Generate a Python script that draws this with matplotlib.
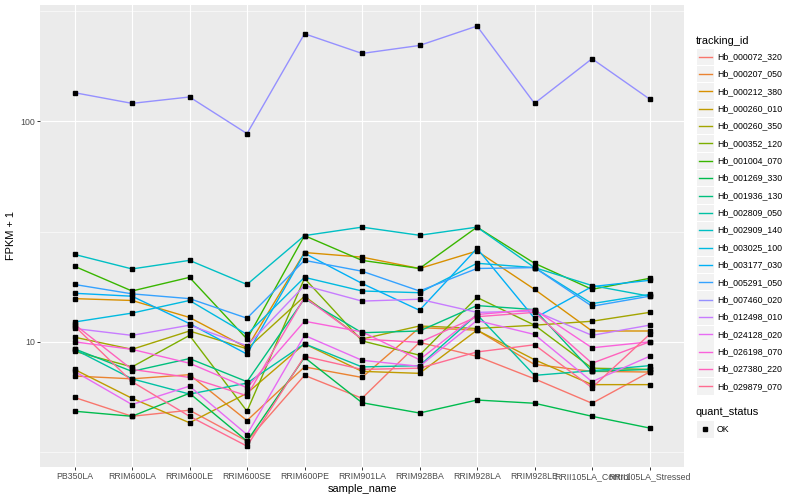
import matplotlib
matplotlib.use("Agg")
import matplotlib.pyplot as plt
from matplotlib.patches import Rectangle
from matplotlib.lines import Line2D
from matplotlib.ticker import FixedLocator, NullFormatter

plt.rcParams['font.family'] = ['Liberation Sans', 'DejaVu Sans']

samples = ["PB350LA", "RRIM600LA", "RRIM600LE", "RRIM600SE", "RRIM600PE",
           "RRIM901LA", "RRIM928BA", "RRIM928LA", "RRIM928LE",
           "RRII105LA_Control", "RRII105LA_Stressed"]

tracking_ids = ["Hb_000072_320", "Hb_000207_050", "Hb_000212_380", "Hb_000260_010",
                "Hb_000260_350", "Hb_000352_120", "Hb_001004_070", "Hb_001269_330",
                "Hb_001936_130", "Hb_002809_050", "Hb_002909_140", "Hb_003025_100",
                "Hb_003177_030", "Hb_005291_050", "Hb_007460_020", "Hb_012498_010",
                "Hb_024128_020", "Hb_026198_070", "Hb_027380_220", "Hb_029879_070"]

# ggplot2 default hue palette, 20 levels
colors = ["#F8766D", "#EA8331", "#D89000", "#C09B00", "#A3A500", "#7CAE00",
          "#39B600", "#00BB4E", "#00BF7D", "#00C1A3", "#00BFC4", "#00BAE0",
          "#00B0F6", "#35A2FF", "#9590FF", "#C77CFF", "#E76BF3", "#FA62DB",
          "#FF62BC", "#FF6C91"]

# FPKM + 1, one list per gene, in sample order
hb_000072_320 = [5.6, 4.6, 4.9, 3.55, 7.05, 5.55, 9.95, 8.6, 6.8, 5.27, 7.3]
hb_000207_050 = [7.0, 6.8, 7.1, 4.4, 7.7, 6.9, 11.6, 11.3, 7.9, 7.35, 7.3]
hb_000212_380 = [15.7, 15.4, 12.9, 9.4, 25.4, 24.2, 21.5, 25.8, 17.3, 11.2, 11.2]
hb_000260_010 = [7.5, 5.55, 4.3, 5.85, 9.8, 7.35, 7.2, 11.3, 8.3, 6.4, 6.4]
hb_000260_350 = [10.5, 9.25, 11.2, 9.3, 16.1, 10.3, 11.8, 11.5, 11.9, 12.4, 13.6]
hb_000352_120 = [9.06, 7.7, 10.7, 4.85, 19.4, 10.1, 8.7, 15.9, 11.9, 7.6, 7.5]
hb_001004_070 = [22.0, 17.0, 19.6, 10.3, 30.3, 23.4, 21.5, 33.1, 22.7, 17.3, 19.4]
hb_001269_330 = [4.85, 4.6, 5.85, 3.55, 8.5, 5.3, 4.76, 5.45, 5.27, 4.6, 4.07]
hb_001936_130 = [9.3, 7.35, 8.4, 6.6, 15.7, 11.0, 11.2, 14.6, 14.0, 7.35, 7.5]
hb_002809_050 = [9.25, 6.8, 5.8, 6.5, 9.8, 7.7, 7.8, 13.3, 7.05, 7.4, 7.8]
hb_002909_140 = [24.9, 21.4, 23.4, 18.2, 30.3, 33.1, 30.4, 33.1, 21.7, 18.0, 16.1]
hb_003025_100 = [12.3, 13.5, 15.4, 10.8, 19.6, 17.0, 16.7, 22.7, 21.7, 14.9, 16.4]
hb_003177_030 = [16.6, 16.1, 12.1, 8.8, 25.2, 18.4, 13.9, 26.5, 12.8, 17.8, 19.0]
hb_005291_050 = [18.2, 16.5, 15.7, 12.8, 23.4, 20.9, 17.0, 21.5, 21.7, 14.5, 16.1]
hb_007460_020 = [134.6, 120.4, 128.7, 87.8, 248.9, 202.7, 220.3, 269.7, 120.4, 191.8, 126.0]
hb_012498_010 = [11.5, 10.7, 11.9, 9.6, 18.0, 15.3, 15.6, 13.6, 13.8, 10.7, 11.9]
hb_024128_020 = [7.35, 5.2, 6.3, 3.8, 10.7, 8.25, 7.75, 12.5, 10.8, 6.6, 8.6]
hb_026198_070 = [10.0, 9.25, 8.0, 6.2, 12.4, 11.1, 8.3, 13.3, 14.0, 9.4, 10.0]
hb_027380_220 = [12.0, 7.5, 6.9, 5.7, 15.9, 10.3, 9.95, 13.0, 13.6, 8.0, 10.0]
hb_029879_070 = [11.8, 6.6, 4.6, 3.37, 8.6, 7.5, 7.6, 9.0, 9.7, 6.2, 10.8]

series = [hb_000072_320, hb_000207_050, hb_000212_380, hb_000260_010,
          hb_000260_350, hb_000352_120, hb_001004_070, hb_001269_330,
          hb_001936_130, hb_002809_050, hb_002909_140, hb_003025_100,
          hb_003177_030, hb_005291_050, hb_007460_020, hb_012498_010,
          hb_024128_020, hb_026198_070, hb_027380_220, hb_029879_070]

fig = plt.figure(figsize=(8, 5), dpi=100)
ax = fig.add_axes([40 / 800, 1 - 467 / 500, 644 / 800, 462 / 500])
ax.set_facecolor("#EBEBEB")

x = list(range(len(samples)))
for vals, col in zip(series, colors):
    ax.plot(x, vals, color=col, lw=1.0, zorder=2)
for vals in series:
    ax.plot(x, vals, ls="none", marker="s", ms=2.4, color="black", zorder=3)

ax.set_yscale("log")
ax.set_ylim(2.71, 336)
ax.set_xlim(-0.6, len(samples) - 0.4)
ax.yaxis.set_major_locator(FixedLocator([10, 100]))
ax.yaxis.set_minor_locator(FixedLocator([10 ** 0.5, 10 ** 1.5, 10 ** 2.5]))
ax.yaxis.set_minor_formatter(NullFormatter())
ax.set_yticklabels(["10", "100"])
ax.set_xticks(x)
ax.set_xticklabels(samples)

ax.grid(which="major", color="white", lw=0.8, zorder=0)
ax.grid(which="minor", axis="y", color="white", lw=0.4, zorder=0)
ax.set_axisbelow(True)
for s in ax.spines.values():
    s.set_visible(False)
ax.tick_params(which="major", length=2.0, width=0.7, color="#333333",
               labelcolor="#4D4D4D", labelsize=6.3, pad=1.5)
ax.tick_params(which="minor", length=0)

ax.set_xlabel("sample_name", fontsize=7.9, labelpad=2)
ax.set_ylabel("FPKM + 1", fontsize=7.9, labelpad=3)

# legend drawn by hand, ggplot style
def fy(py):
    return 1 - py / 500.0

fig.text(696 / 800, fy(40.7), "tracking_id", fontsize=7.9, va="center", ha="left")
step = 17.35
for i, (name, col) in enumerate(zip(tracking_ids, colors)):
    cy = 56.7 + i * step
    fig.patches.append(Rectangle((697 / 800, fy(cy + 8.2)), 16.5 / 800, 16.4 / 500,
                                 transform=fig.transFigure, facecolor="#F2F2F2",
                                 edgecolor="none"))
    fig.lines.append(Line2D([698.5 / 800, 712 / 800], [fy(cy), fy(cy)],
                            transform=fig.transFigure, color=col, lw=1.0))
    fig.text(717 / 800, fy(cy), name, fontsize=6.3, va="center", ha="left")

fig.text(696 / 800, fy(412.3), "quant_status", fontsize=7.9, va="center", ha="left")
fig.patches.append(Rectangle((697 / 800, fy(429.3 + 8.2)), 16.5 / 800, 16.4 / 500,
                             transform=fig.transFigure, facecolor="#F2F2F2",
                             edgecolor="none"))
fig.lines.append(Line2D([705.2 / 800], [fy(429.3)], transform=fig.transFigure,
                        marker="s", ms=2.4, color="black", ls="none"))
fig.text(717 / 800, fy(429.3), "OK", fontsize=6.3, va="center", ha="left")

fig.savefig("out.png", dpi=100)
